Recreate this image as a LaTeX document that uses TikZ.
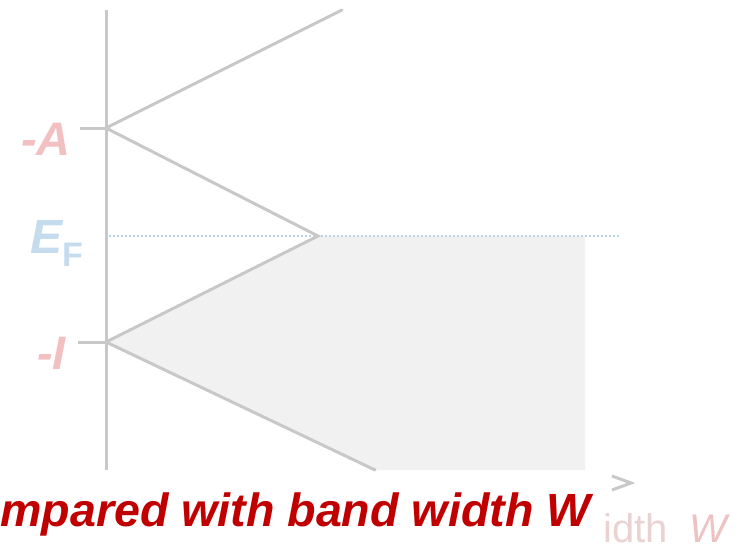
\documentclass[tikz,border=0pt]{standalone}
\usepackage{fontspec}
\setmainfont{Liberation Sans}
\definecolor{axgray}{HTML}{C8C8C8}
\definecolor{bandfill}{HTML}{F1F1F1}
\definecolor{efblue}{HTML}{B9D5EA}
\definecolor{lblpink}{HTML}{F2C0C0}
\definecolor{efbluetxt}{HTML}{C4DCEE}
\definecolor{deepred}{HTML}{C00000}
\definecolor{fadegray}{HTML}{EAD2D2}
\definecolor{fadepink}{HTML}{EEC2C2}
\tikzset{
  axisline/.style={draw=axgray, line width=3pt},
  bandline/.style={draw=axgray, line width=3pt, line cap=round},
  lvl/.style={font=\fontsize{47}{50}\selectfont\bfseries\itshape, inner sep=0pt},
}
\begin{document}
\begin{tikzpicture}[x=1pt,y=-1pt]
\useasboundingbox (0,0) rectangle (738,549);
% key points
\coordinate (axtop) at (106,10);
\coordinate (axbot) at (106,470);
\coordinate (A) at (106,128);
\coordinate (I) at (106,342);
\coordinate (F) at (318,236);
\coordinate (uptop) at (342,10);
\coordinate (lowend) at (375,470);
\coordinate (fillr) at (585,236);
\coordinate (fillb) at (585,470);
\coordinate (efl) at (105,236);
\coordinate (efr) at (620,236);
\coordinate (tA) at (80,128);
\coordinate (tI) at (78,342);
% band fill
\fill[bandfill] (I) -- (F) -- (fillr) -- (fillb) -- (lowend) -- cycle;
% fermi level
\draw[efblue, line width=2pt, dotted] (efl) -- (efr);
% axis and ticks
\draw[axisline] (axtop) -- (axbot);
\draw[axisline] (tA) -- (A);
\draw[axisline] (tI) -- (I);
% band edges
\draw[bandline] (uptop) -- (A) -- (F) -- (I) -- (lowend);
% labels
\node[lvl, text=lblpink, anchor=base east] (labA) at (71,155) {-A};
\node[lvl, text=efbluetxt, anchor=base west] (labE) at (30,253) {\fontsize{48}{50}\selectfont E\raisebox{-0.28em}{\fontsize{34}{36}\selectfont\upshape F}};
\node[lvl, text=lblpink, anchor=base east] (labI) at (66,369) {-I};
% x-axis arrow head
\coordinate (c1) at (612,476);
\coordinate (c2) at (631,483);
\coordinate (c3) at (612,490);
\draw[axisline, line join=miter] (c1) -- (c2) -- (c3);
% faded axis label
\node[anchor=base west, inner sep=0pt, text=fadegray, font=\fontsize{40}{42}\selectfont] (wlab) at (603,542) {idth\hspace{22pt}\textcolor{fadepink}{\itshape W}};
% caption
\node[anchor=base west, inner sep=0pt, text=deepred, font=\fontsize{46.6}{50}\selectfont\bfseries\itshape] (cap) at (0,526) {mpared with band width W};
\end{tikzpicture}
\end{document}
